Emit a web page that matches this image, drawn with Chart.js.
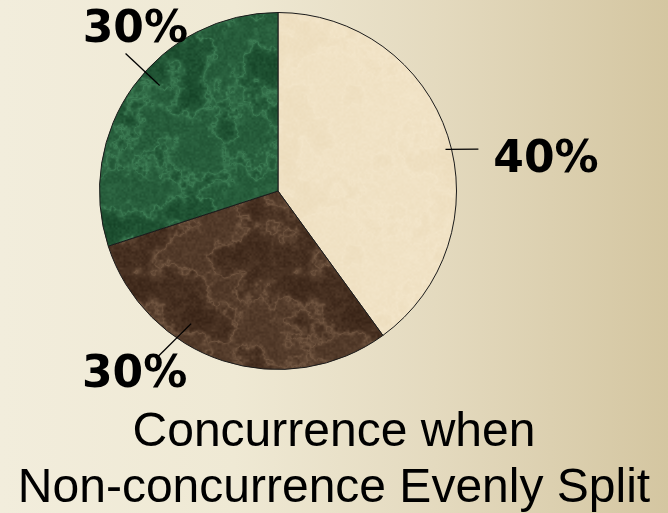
<!DOCTYPE html>
<html><head><meta charset="utf-8">
<script src="https://cdn.jsdelivr.net/npm/chart.js@4"></script>
<style>
html,body{margin:0;padding:0;}
body{width:668px;height:513px;overflow:hidden;background:linear-gradient(to right,#F2EDDC 0%,#EFE9D4 35%,#E4DABF 65%,#D4C6A1 100%);}
canvas{display:block;}
</style></head><body>
<canvas id="c" width="668" height="513"></canvas>
<script>
// ---- data ----
const categories = ['Concurrence', 'Non-concurrence (A)', 'Non-concurrence (B)'];
const values = [40, 30, 30];
const valueLabels = ['40%', '30%', '30%'];
const titleLines = ['Concurrence when', 'Non-concurrence Evenly Split'];

// ---- style ----
// [dark, light] tones of each marbled slice fill, plus vein strength
const sliceTones = [
  {dark: [236, 220, 188], light: [247, 235, 210], vein: 0.25},
  {dark: [56, 35, 22], light: [120, 92, 70], vein: 0.55},
  {dark: [20, 66, 38], light: [66, 132, 90], vein: 0.55}
];
// label placement relative to each slice (fractions of the slice angle, radii as multiples of outer radius)
const labelStyle = [
  {l0f: 0.528, l0r: 0.967, l1f: 0.543, l1r: 1.147, tf: 0.574, tr: 1.514},
  {l0f: 0.641, l0r: 0.888, l1f: 0.666, l1r: 1.145, tf: 0.690, tr: 1.290},
  {l0f: 0.553, l0r: 0.888, l1f: 0.556, l1r: 1.150, tf: 0.622, tr: 1.222}
];

// deterministic hash-based value noise for a marble-like texture (styling only)
function hash(x, y, s) {
  let h = (x * 374761393 + y * 668265263 + s * 982451653) | 0;
  h = (h ^ (h >>> 13)) * 1274126177 | 0;
  h = h ^ (h >>> 16);
  return (h >>> 0) / 4294967295;
}
function vnoise(x, y, s, period) {
  const xi = Math.floor(x), yi = Math.floor(y);
  const xf = x - xi, yf = y - yi;
  const u = xf * xf * (3 - 2 * xf), v = yf * yf * (3 - 2 * yf);
  const w = (a) => ((a % period) + period) % period;
  const a = hash(w(xi), w(yi), s), b = hash(w(xi + 1), w(yi), s);
  const c = hash(w(xi), w(yi + 1), s), d = hash(w(xi + 1), w(yi + 1), s);
  return a + (b - a) * u + (c - a) * v + (a - b - c + d) * u * v;
}
function makePattern(tone, seed) {
  const N = 160;
  const cv = document.createElement('canvas');
  cv.width = N; cv.height = N;
  const g = cv.getContext('2d');
  const img = g.createImageData(N, N);
  for (let y = 0; y < N; y++) {
    for (let x = 0; x < N; x++) {
      let n = 0, amp = 0.5, tot = 0;
      for (let o = 0; o < 5; o++) {
        const f = 5 * Math.pow(2, o);
        n += amp * vnoise(x / N * f, y / N * f, seed + o, f);
        tot += amp; amp *= 0.6;
      }
      n /= tot;
      const fine = vnoise(x / N * 80, y / N * 80, seed + 9, 80);
      const vein = Math.pow(1 - Math.abs(n - 0.5) * 2, 10);
      let t = 0.28 + (n - 0.5) * 0.6 + (fine - 0.5) * 0.25 + vein * tone.vein;
      t = Math.min(1, Math.max(0, t));
      const i = (y * N + x) * 4;
      for (let k = 0; k < 3; k++) img.data[i + k] = tone.dark[k] + (tone.light[k] - tone.dark[k]) * t;
      img.data[i + 3] = 255;
    }
  }
  g.putImageData(img, 0, 0);
  return g.createPattern(cv, 'repeat');
}

const labelPlugin = {
  id: 'pieLabels',
  afterDatasetsDraw(chart) {
    const ctx = chart.ctx;
    const meta = chart.getDatasetMeta(0);
    meta.data.forEach((arc, i) => {
      const p = arc.getProps(['x', 'y', 'startAngle', 'endAngle', 'outerRadius'], true);
      const s = labelStyle[i];
      const ang = f => p.startAngle + f * (p.endAngle - p.startAngle);
      const pt = (f, r) => [p.x + Math.cos(ang(f)) * r * p.outerRadius, p.y + Math.sin(ang(f)) * r * p.outerRadius];
      const a = pt(s.l0f, s.l0r), b = pt(s.l1f, s.l1r), t = pt(s.tf, s.tr);
      ctx.save();
      ctx.strokeStyle = '#000';
      ctx.lineWidth = 1.3;
      ctx.beginPath();
      ctx.moveTo(a[0], a[1]);
      ctx.lineTo(b[0], b[1]);
      ctx.stroke();
      ctx.fillStyle = '#000';
      ctx.font = 'bold 44px "DejaVu Sans", Verdana, sans-serif';
      ctx.textAlign = 'center';
      ctx.textBaseline = 'alphabetic';
      ctx.fillText(valueLabels[i], t[0], t[1] + 44 * 0.729 / 2);
      ctx.restore();
    });
  },
  afterDraw(chart) {
    const ctx = chart.ctx;
    const cx = chart.width / 2;
    ctx.save();
    ctx.fillStyle = '#000';
    ctx.font = '48px "Liberation Sans", Arial, sans-serif';
    ctx.textAlign = 'center';
    ctx.textBaseline = 'alphabetic';
    const firstBaseline = chart.chartArea.bottom + 76;
    titleLines.forEach((line, k) => ctx.fillText(line, cx, firstBaseline + k * 56));
    ctx.restore();
  }
};

new Chart(document.getElementById('c'), {
  type: 'pie',
  data: {
    labels: categories,
    datasets: [{
      data: values,
      backgroundColor: sliceTones.map((t, i) => makePattern(t, 11 + i * 13)),
      borderColor: '#1a1a1a',
      borderWidth: 1
    }]
  },
  options: {
    responsive: false,
    animation: false,
    layout: {padding: {left: 99, right: 211, top: 12, bottom: 143}},
    plugins: {
      legend: {display: false},
      tooltip: {enabled: false},
      title: {display: false}
    }
  },
  plugins: [labelPlugin]
});
</script>
</body></html>
